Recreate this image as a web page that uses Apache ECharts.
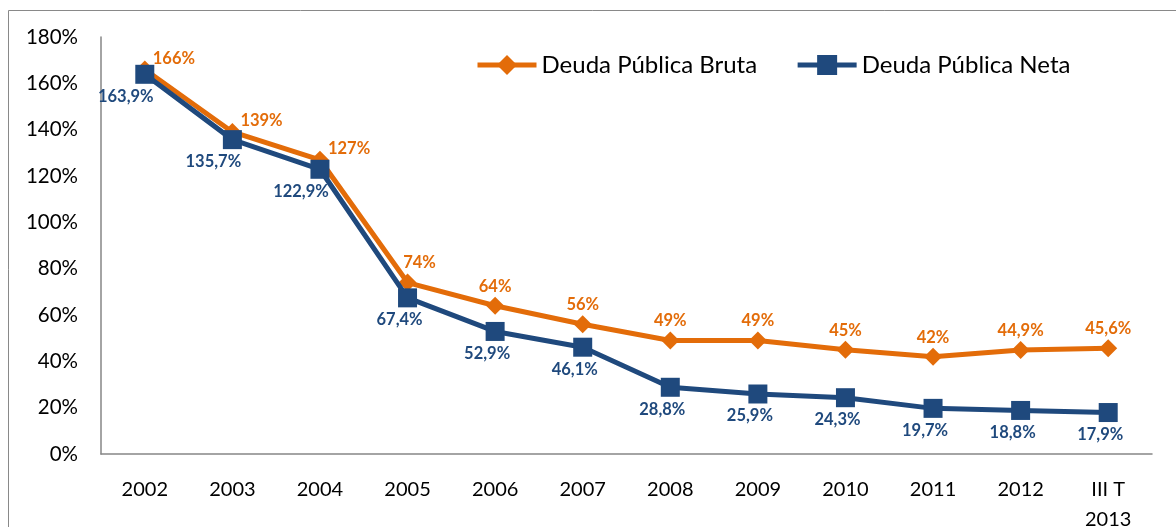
<!DOCTYPE html>
<html><head><meta charset="utf-8">
<script src="https://cdn.jsdelivr.net/npm/echarts@6/dist/echarts.min.js"></script>
<style>html,body{margin:0;padding:0;background:#fff}#c{width:1176px;height:527px}</style>
</head><body><div id="c"></div>
<script>
const categories = ['2002','2003','2004','2005','2006','2007','2008','2009','2010','2011','2012','III T\n2013'];
const bruta = [166, 139, 127, 74, 64, 56, 49, 49, 45, 42, 44.9, 45.6];
const neta = [163.9, 135.7, 122.9, 67.4, 52.9, 46.1, 28.8, 25.9, 24.3, 19.7, 18.8, 17.9];
const brutaLabels = ['166%','139%','127%','74%','64%','56%','49%','49%','45%','42%','44,9%','45,6%'];
const netaLabels = ['163,9%','135,7%','122,9%','67,4%','52,9%','46,1%','28,8%','25,9%','24,3%','19,7%','18,8%','17,9%'];
const yTicks = [0,20,40,60,80,100,120,140,160,180];

const FONT = 'Lato';
const ORANGE = '#E36C09';
const BLUE = '#1F497D';

const chart = echarts.init(document.getElementById('c'));
chart.setOption({
  animation: false,
  textStyle: { fontFamily: FONT },
  graphic: [{ type: 'rect', shape: { x: 8.5, y: 10.5, width: 1200, height: 600 }, style: { fill: 'none', stroke: '#898989', lineWidth: 1 }, silent: true }],
  grid: { left: 101, right: 24, top: 37, bottom: 73, outerBoundsMode: 'none', containLabel: false },
  legend: {
    left: 470, top: 48, itemWidth: 59, itemHeight: 25, itemGap: 38,
    lineStyle: { width: 5 },
    textStyle: { fontFamily: FONT, fontSize: 24, color: '#000' },
    data: ['Deuda Pública Bruta', 'Deuda Pública Neta']
  },
  xAxis: {
    type: 'category', data: categories, boundaryGap: true,
    axisLine: { lineStyle: { color: '#868686', width: 1.5 } },
    axisTick: { show: false },
    axisLabel: { color: '#000', fontSize: 20, fontFamily: FONT, margin: 21, lineHeight: 30, interval: 0 }
  },
  yAxis: {
    type: 'value', min: 0, max: 180, interval: 20,
    splitLine: { show: false },
    axisLine: { show: true, lineStyle: { color: '#868686', width: 1.5 } },
    axisTick: { show: false },
    axisLabel: { color: '#000', fontSize: 20.5, fontFamily: FONT, margin: 23, formatter: v => yTicks.includes(v) ? v + '%' : '' }
  },
  series: [
    {
      name: 'Deuda Pública Bruta', type: 'line', z: 2,
      symbol: 'diamond', symbolSize: 18,
      lineStyle: { color: ORANGE, width: 5 }, itemStyle: { color: ORANGE },
      data: bruta.map((v, i) => ({
        value: v,
        label: i < 3
          ? { show: true, position: 'right', offset: [-6, -11] }
          : { show: true, position: 'top', offset: [i === 3 ? 12 : 0, 3] }
      })),
      label: { show: true, color: ORANGE, fontWeight: 'bold', fontSize: 16.5, fontFamily: FONT,
        formatter: p => brutaLabels[p.dataIndex] }
    },
    {
      name: 'Deuda Pública Neta', type: 'line', z: 3,
      symbol: 'rect', symbolSize: 19,
      lineStyle: { color: BLUE, width: 5 }, itemStyle: { color: BLUE },
      data: neta.map((v, i) => ({
        value: v,
        label: { show: true, position: 'bottom', offset: [i < 3 ? -19 : -8, -1] }
      })),
      label: { show: true, color: BLUE, fontWeight: 'bold', fontSize: 16.5, fontFamily: FONT,
        formatter: p => netaLabels[p.dataIndex] }
    }
  ]
});
</script></body></html>
